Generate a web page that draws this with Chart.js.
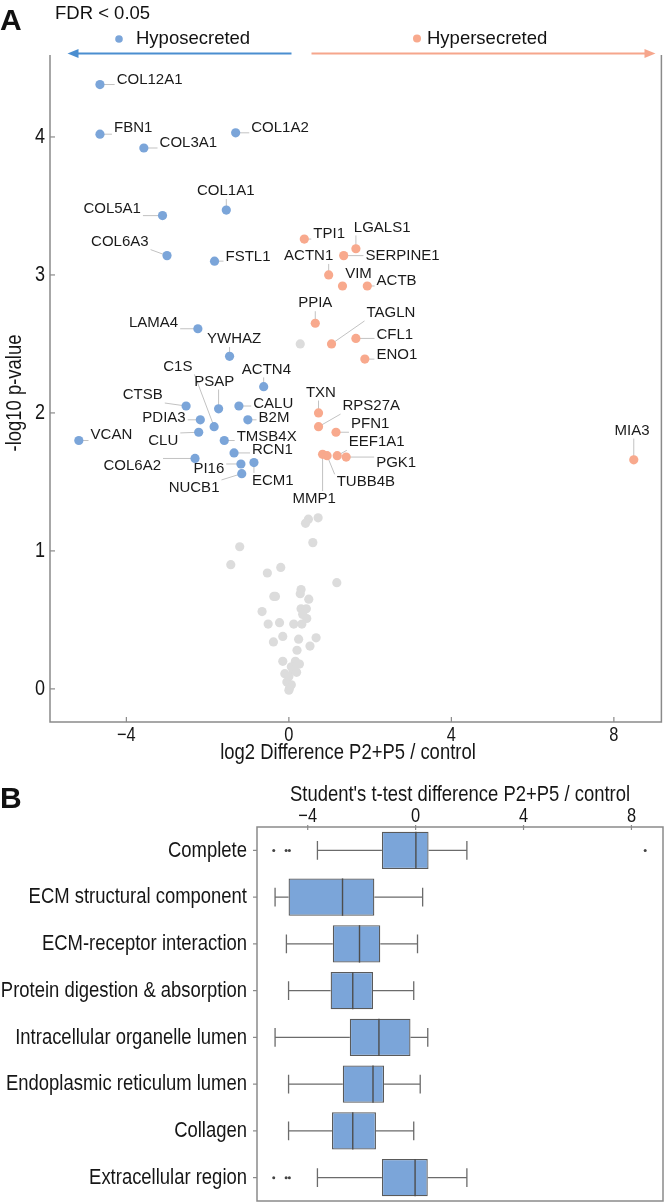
<!DOCTYPE html>
<html><head><meta charset="utf-8">
<script src="https://cdn.jsdelivr.net/npm/chart.js@4.4.0/dist/chart.umd.min.js"></script>
<style>
html,body{margin:0;padding:0;background:#fff;}
#wrap{position:relative;width:666px;height:1202px;overflow:hidden;background:#fff;}
#cA{position:absolute;left:0;top:0;}
#cB{position:absolute;left:0;top:770px;}
</style></head><body>
<div id="wrap"><canvas id="cA" width="666" height="770"></canvas><canvas id="cB" width="666" height="432"></canvas></div>
<script>
// ---------- Panel A data ----------
const hypoGenes = ['COL12A1','FBN1','COL3A1','COL1A2','COL1A1','COL5A1','COL6A3','FSTL1','LAMA4','YWHAZ','ACTN4','CTSB','PSAP','CALU','PDIA3','B2M','C1S','CLU','VCAN','TMSB4X','RCN1','COL6A2','PI16','ECM1','NUCB1'];
const hypoLog2 = [-4.65,-4.65,-3.57,-1.31,-1.54,-3.11,-3.00,-1.83,-2.24,-1.46,-0.62,-2.53,-1.73,-1.23,-2.18,-1.01,-1.84,-2.22,-5.17,-1.59,-1.35,-2.31,-1.18,-0.86,-1.16];
const hypoNegLogP = [4.38,4.02,3.92,4.03,3.47,3.43,3.14,3.10,2.61,2.41,2.19,2.05,2.03,2.05,1.95,1.95,1.90,1.86,1.80,1.80,1.71,1.67,1.63,1.64,1.56];

const hyperGenes = ['TPI1','LGALS1','SERPINE1','ACTN1','VIM','ACTB','PPIA','TAGLN','CFL1','ENO1','TXN','RPS27A','PFN1','MMP1','TUBB4B','EEF1A1','PGK1','MIA3'];
const hyperLog2 = [0.38,1.65,1.35,0.98,1.32,1.93,0.65,1.05,1.65,1.87,0.73,0.73,1.16,0.83,0.94,1.19,1.41,8.49];
const hyperNegLogP = [3.26,3.19,3.14,3.00,2.92,2.92,2.65,2.50,2.54,2.39,2.00,1.90,1.86,1.70,1.69,1.69,1.68,1.66];

const nsLog2 = [0.48,0.72,0.41,0.59,-1.21,-1.43,-0.20,-0.53,1.18,0.30,0.28,-0.37,-0.33,0.49,-0.66,0.30,0.43,0.34,0.44,-0.51,-0.23,0.12,0.32,-0.15,0.24,0.67,-0.38,0.52,0.20,-0.15,0.16,0.26,0.06,0.10,0.19,-0.10,0.00,-0.05,0.06,0.00,0.02,0.28];
const nsNegLogP = [1.23,1.24,1.20,1.06,1.03,0.90,0.88,0.84,0.77,0.72,0.69,0.67,0.67,0.65,0.56,0.58,0.58,0.54,0.51,0.47,0.48,0.47,0.47,0.38,0.36,0.37,0.34,0.31,0.28,0.20,0.20,0.18,0.16,0.14,0.12,0.11,0.09,0.05,0.03,-0.01,0.01,2.50];

const xTickValues = [-4,0,4,8];
const yTickValuesA = [0,1,2,3,4];

// ---------- Panel B data ----------
const categories = ['Complete','ECM structural component','ECM-receptor interaction','Protein digestion & absorption','Intracellular organelle lumen','Endoplasmic reticulum lumen','Collagen','Extracellular region'];
const whiskerLow = [-3.64,-5.21,-4.79,-4.71,-5.21,-4.71,-4.71,-3.64];
const q1 = [-1.25,-4.71,-3.07,-3.15,-2.44,-2.70,-3.10,-1.25];
const median = [0.01,-2.71,-2.08,-2.33,-1.36,-1.58,-2.33,-0.02];
const q3 = [0.48,-1.53,-1.31,-1.58,-0.19,-1.17,-1.47,0.45];
const whiskerHigh = [1.90,0.26,0.07,-0.07,0.45,0.17,-0.07,1.90];
const outliers = [[-5.26,-4.80,-4.68,8.51],[],[],[],[],[],[],[-5.26,-4.80,-4.68]];

// ---------- layout / style (not data) ----------
const REG = "'Liberation Sans',Arial,Helvetica,sans-serif";
const SQUEEZE = 0.82;          // emulate a narrow (condensed) face
const FRAME = '#8a8a8a';
const BLUE = '#7BA5D9';
const ORANGE = '#F8A98D';
const GRAY = '#DCDCDC';
const XMIN = -5.88, XMAX = 9.17;

const labelLayout = {
  COL12A1:[16.7,-4.3,'left'], FBN1:[14,-6.4,'left'], COL3A1:[15.7,-5,'left'], COL1A2:[15.6,-5.4,'left'],
  COL1A1:[-0.6,-19,'center'], COL5A1:[-21.6,-6.7,'right'], COL6A3:[-18.4,-14,'right'], FSTL1:[11,-4,'left'],
  LAMA4:[-19.7,-5.7,'right'], YWHAZ:[4.6,-17.3,'center'], ACTN4:[2.7,-17.3,'center'], CTSB:[-23.3,-11,'right'],
  PSAP:[-4.4,-27.3,'center'], CALU:[14.3,-2,'left'], PDIA3:[-14.6,-2.3,'right'], B2M:[10.7,-1.7,'left'],
  C1S:[-36.3,-60.3,'center'], CLU:[-20.4,8.7,'right'], VCAN:[11.7,-5.6,'left'], TMSB4X:[12.4,-3.7,'left'],
  RCN1:[18,-3,'left'], COL6A2:[-34,7.4,'right'], PI16:[-16.7,5,'right'], ECM1:[-2,18.3,'left'], NUCB1:[-47.7,14.3,'center'],
  TPI1:[9,-5.7,'left'], LGALS1:[26.3,-21.3,'center'], SERPINE1:[21.7,0.7,'left'], ACTN1:[-20,-19,'center'],
  VIM:[16,-12.4,'center'], ACTB:[9.3,-5,'left'], PPIA:[0,-20,'center'], TAGLN:[35,-31,'left'], CFL1:[20.6,-4,'left'],
  ENO1:[11.6,-4,'left'], TXN:[2.4,-20.4,'center'], RPS27A:[24,-20.6,'left'], PFN1:[15,-8,'left'], MMP1:[-8.3,44.7,'center'],
  TUBB4B:[9.6,26.6,'left'], EEF1A1:[11.6,-13.4,'left'], PGK1:[30,5.3,'left'], MIA3:[-1.7,-29.3,'center']
};

const fmt = v => (v < 0 ? '\u2212' + Math.abs(v) : String(v));
const pts = (xs, ys) => xs.map((x, i) => ({x: x, y: ys[i]}));

function ntext(ctx, str, x, y, size, align, rot) {
  ctx.save();
  ctx.font = size + 'px ' + REG;
  ctx.fillStyle = '#161616';
  ctx.textBaseline = 'middle';
  ctx.textAlign = align;
  ctx.translate(x, y);
  if (rot) ctx.rotate(rot);
  ctx.scale(SQUEEZE, 1);
  ctx.fillText(str, 0, 0);
  ctx.restore();
}

function eachLabel(chart, fn) {
  [[1, hypoGenes], [2, hyperGenes]].forEach(([di, names]) => {
    const meta = chart.getDatasetMeta(di);
    names.forEach((name, i) => {
      const el = meta.data[i];
      const L = labelLayout[name];
      if (!el || !L) return;
      fn(name, el.x, el.y, el.x + L[0], el.y + L[1], L[2]);
    });
  });
}

const panelAPlugin = {
  id: 'panelA',
  beforeDatasetsDraw(chart) {
    const {ctx, chartArea: a, scales: {x, y}} = chart;
    ctx.save();
    ctx.strokeStyle = FRAME; ctx.lineWidth = 1.5;
    ctx.beginPath();
    ctx.moveTo(a.left, a.top); ctx.lineTo(a.left, a.bottom); ctx.lineTo(a.right, a.bottom); ctx.lineTo(a.right, a.top);
    ctx.stroke();
    ctx.lineWidth = 1.2;
    xTickValues.forEach(v => { const px = x.getPixelForValue(v); ctx.beginPath(); ctx.moveTo(px, a.bottom); ctx.lineTo(px, a.bottom - 5); ctx.stroke(); });
    yTickValuesA.forEach(v => { const py = y.getPixelForValue(v); ctx.beginPath(); ctx.moveTo(a.left, py); ctx.lineTo(a.left + 5, py); ctx.stroke(); });
    ctx.font = '15px ' + REG;
    ctx.strokeStyle = '#c2c2c2'; ctx.lineWidth = 1;
    eachLabel(chart, (name, px, py, tx, ty, align) => {
      const w = ctx.measureText(name).width;
      const l = align === 'left' ? tx : align === 'right' ? tx - w : tx - w / 2;
      const r = l + w, t = ty - 6, b = ty + 6;
      const cx = Math.min(Math.max(px, l - 2), r + 2);
      const cy = Math.min(Math.max(py, t - 2), b + 2);
      if (Math.hypot(cx - px, cy - py) > 6) {
        ctx.beginPath(); ctx.moveTo(px, py); ctx.lineTo(cx, cy); ctx.stroke();
      }
    });
    ctx.restore();
  },
  afterDatasetsDraw(chart) {
    const {ctx} = chart;
    ctx.save();
    ctx.font = '15px ' + REG; ctx.fillStyle = '#1a1a1a'; ctx.textBaseline = 'middle';
    eachLabel(chart, (name, px, py, tx, ty, align) => {
      ctx.textAlign = align; ctx.fillText(name, tx, ty);
    });
    ctx.restore();
  },
  afterDraw(chart) {
    const {ctx, chartArea: a, scales: {x, y}} = chart;
    xTickValues.forEach(v => ntext(ctx, fmt(v), x.getPixelForValue(v), 735, 20, 'center'));
    yTickValuesA.forEach(v => ntext(ctx, fmt(v), 45, y.getPixelForValue(v), 22, 'right'));
    ntext(ctx, 'log2 Difference P2+P5 / control', 348, 753, 22.5, 'center');
    ntext(ctx, '-log10 p-value', 15, 393, 22.5, 'center', -Math.PI / 2);
    ctx.save();
    ctx.textBaseline = 'middle'; ctx.textAlign = 'left'; ctx.fillStyle = '#111';
    ctx.font = 'bold 30px ' + REG; ctx.fillText('A', 0, 22);
    ctx.font = '18.5px ' + REG; ctx.fillText('FDR < 0.05', 55, 14);
    ctx.fillText('Hyposecreted', 136, 39);
    ctx.fillText('Hypersecreted', 427, 39);
    ctx.fillStyle = BLUE; ctx.beginPath(); ctx.arc(119, 39, 3.8, 0, Math.PI * 2); ctx.fill();
    ctx.fillStyle = ORANGE; ctx.beginPath(); ctx.arc(417, 38.5, 4, 0, Math.PI * 2); ctx.fill();
    const arrow = (x0, x1, yy, col) => {
      ctx.strokeStyle = col; ctx.fillStyle = col; ctx.lineWidth = 2;
      const dir = Math.sign(x1 - x0);
      ctx.beginPath(); ctx.moveTo(x0, yy); ctx.lineTo(x1 - dir * 8, yy); ctx.stroke();
      ctx.beginPath(); ctx.moveTo(x1, yy); ctx.lineTo(x1 - dir * 11, yy - 4.5); ctx.lineTo(x1 - dir * 11, yy + 4.5); ctx.closePath(); ctx.fill();
    };
    arrow(291.5, 67.5, 53.5, '#4B8ED0');
    arrow(311.5, 655.5, 53.5, '#F6A68C');
    ctx.restore();
  }
};

new Chart(document.getElementById('cA'), {
  type: 'scatter',
  data: {
    datasets: [
      {data: pts(nsLog2, nsNegLogP), backgroundColor: GRAY, borderWidth: 0, pointRadius: 4.6},
      {data: pts(hypoLog2, hypoNegLogP), backgroundColor: BLUE, borderWidth: 0, pointRadius: 4.6},
      {data: pts(hyperLog2, hyperNegLogP), backgroundColor: ORANGE, borderWidth: 0, pointRadius: 4.6}
    ]
  },
  options: {
    responsive: false, animation: false, devicePixelRatio: 1,
    layout: {padding: {top: 55, right: 2, left: 0, bottom: 0}},
    plugins: {legend: {display: false}, tooltip: {enabled: false}},
    scales: {
      x: {
        type: 'linear', min: XMIN, max: XMAX,
        afterBuildTicks: s => { s.ticks = xTickValues.map(v => ({value: v})); },
        afterFit: s => { s.height = 48; },
        grid: {display: false, drawTicks: false}, border: {display: false},
        ticks: {display: false}
      },
      y: {
        type: 'linear', min: -0.24, max: 4.594,
        afterBuildTicks: s => { s.ticks = yTickValuesA.map(v => ({value: v})); },
        afterFit: s => { s.width = 50; },
        grid: {display: false, drawTicks: false}, border: {display: false},
        ticks: {display: false}
      }
    }
  },
  plugins: [panelAPlugin]
});

// ---------- Panel B ----------
const panelBPlugin = {
  id: 'panelB',
  beforeDatasetsDraw(chart) {
    const {ctx, chartArea: a, scales: {x, y}} = chart;
    const meta = chart.getDatasetMeta(0);
    ctx.save();
    ctx.strokeStyle = FRAME; ctx.lineWidth = 1.5;
    ctx.strokeRect(a.left, a.top, a.right - a.left, a.bottom - a.top);
    ctx.lineWidth = 1.2;
    xTickValues.forEach(v => { const px = x.getPixelForValue(v); ctx.beginPath(); ctx.moveTo(px, a.top - 2); ctx.lineTo(px, a.top + 3); ctx.stroke(); });
    categories.forEach((c, i) => { const py = y.getPixelForValue(i); ctx.beginPath(); ctx.moveTo(a.left - 4, py); ctx.lineTo(a.left, py); ctx.stroke(); });
    ctx.strokeStyle = '#6b6b6b'; ctx.lineWidth = 1.3;
    categories.forEach((c, i) => {
      const el = meta.data[i];
      const py = y.getPixelForValue(i);
      const h = el ? el.height : 37;
      const wl = x.getPixelForValue(whiskerLow[i]), wh = x.getPixelForValue(whiskerHigh[i]);
      const b1 = x.getPixelForValue(q1[i]), b3 = x.getPixelForValue(q3[i]);
      ctx.beginPath();
      ctx.moveTo(wl, py); ctx.lineTo(b1, py);
      ctx.moveTo(b3, py); ctx.lineTo(wh, py);
      ctx.moveTo(wl, py - h / 4); ctx.lineTo(wl, py + h / 4);
      ctx.moveTo(wh, py - h / 4); ctx.lineTo(wh, py + h / 4);
      ctx.stroke();
    });
    ctx.restore();
  },
  afterDatasetsDraw(chart) {
    const {ctx, scales: {x, y}} = chart;
    const meta = chart.getDatasetMeta(0);
    ctx.save();
    ctx.strokeStyle = '#4d4d4d'; ctx.lineWidth = 1.4;
    categories.forEach((c, i) => {
      const el = meta.data[i];
      const py = y.getPixelForValue(i);
      const h = el ? el.height : 37;
      const m = x.getPixelForValue(median[i]);
      ctx.beginPath(); ctx.moveTo(m, py - h / 2); ctx.lineTo(m, py + h / 2); ctx.stroke();
      ctx.fillStyle = '#444';
      outliers[i].forEach(v => { ctx.beginPath(); ctx.arc(x.getPixelForValue(v), py, 1.5, 0, Math.PI * 2); ctx.fill(); });
    });
    ctx.restore();
  },
  afterDraw(chart) {
    const {ctx, chartArea: a, scales: {x, y}} = chart;
    xTickValues.forEach(v => ntext(ctx, fmt(v), x.getPixelForValue(v), 46, 20, 'center'));
    categories.forEach((c, i) => ntext(ctx, c, 247, y.getPixelForValue(i), 22.5, 'right'));
    ntext(ctx, "Student's t-test difference P2+P5 / control", (a.left + a.right) / 2, 25, 22.5, 'center');
    ctx.save();
    ctx.font = 'bold 30px ' + REG; ctx.fillStyle = '#111'; ctx.textBaseline = 'middle'; ctx.textAlign = 'left';
    ctx.fillText('B', 0, 30);
    ctx.restore();
  }
};

new Chart(document.getElementById('cB'), {
  type: 'bar',
  data: {
    labels: categories,
    datasets: [{
      data: q1.map((v, i) => [v, q3[i]]),
      backgroundColor: BLUE, borderColor: '#5a5a5a', borderWidth: 1.3, borderSkipped: false,
      barPercentage: 0.8, categoryPercentage: 1
    }]
  },
  options: {
    indexAxis: 'y', responsive: false, animation: false, devicePixelRatio: 1,
    layout: {padding: {top: 0, right: 3, left: 0, bottom: 1}},
    plugins: {legend: {display: false}, tooltip: {enabled: false}},
    scales: {
      x: {
        type: 'linear', position: 'top', min: XMIN, max: XMAX,
        afterBuildTicks: s => { s.ticks = xTickValues.map(v => ({value: v})); },
        afterFit: s => { s.height = 57; },
        grid: {display: false, drawTicks: false}, border: {display: false},
        ticks: {display: false}
      },
      y: {
        type: 'category',
        afterFit: s => { s.width = 257; },
        grid: {display: false, drawTicks: false}, border: {display: false},
        ticks: {display: false}
      }
    }
  },
  plugins: [panelBPlugin]
});
</script>
</body></html>
